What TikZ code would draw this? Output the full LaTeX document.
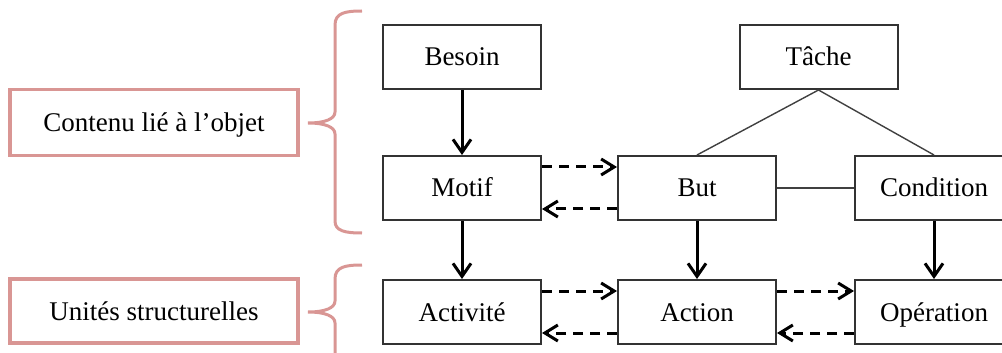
\documentclass[tikz,border=0pt]{standalone}
\usepackage{fontspec}
\setmainfont{Liberation Serif}
\usetikzlibrary{arrows.meta}
\definecolor{pinkline}{RGB}{217,150,148}
\begin{document}
\begin{tikzpicture}[x=0.5pt,y=-0.5pt,
  box/.style={draw=black!80,line width=1pt,fill=white,minimum width=79pt,minimum height=32pt,inner sep=0pt,text height=10pt,text depth=1pt,font=\fontsize{13.5}{16}\selectfont},
  pinkbox/.style={draw=pinkline,line width=1.8pt,minimum width=144pt,minimum height=33pt,inner sep=0pt,text height=10pt,text depth=1pt,font=\fontsize{13.5}{16}\selectfont},
  solidarrow/.style={line width=1.5pt,-{Straight Barb[length=6.5pt,width=9pt,line width=1.5pt]}},
  dasharrow/.style={line width=1.5pt,dash pattern=on 5pt off 3.5pt,-{Straight Barb[length=6.5pt,width=8pt,line width=1.5pt]}},
  thinline/.style={line width=0.7pt,black!75},
  bracestyle/.style={draw=pinkline,line width=1.5pt}
]
\clip (0,0) rectangle (1002,353);
% nodes
\node[box] (besoin) at (462,57) {Besoin};
\node[box] (motif) at (462,188) {Motif};
\node[box] (activite) at (462,312) {Activité};
\node[box] (tache) at (818.5,57) {Tâche};
\node[box] (but) at (697,188) {But};
\node[box] (condition) at (934,188) {Condition};
\node[box] (action) at (697,312) {Action};
\node[box] (operation) at (934,312) {Opération};
\node[pinkbox] (contenu) at (154,122.5) {Contenu lié à l’objet};
\node[pinkbox,minimum height=32pt] (unites) at (154,311) {Unités structurelles};
% braces
\draw[bracestyle] (362,11) .. controls (345,11) and (335,13) .. (335,25) -- (335,112)
  .. controls (335,119) and (325,123) .. (308,123)
  .. controls (325,123) and (335,127) .. (335,134) -- (335,221)
  .. controls (335,231) and (345,233) .. (362,233);
\draw[bracestyle] (362,265) .. controls (345,265) and (335,267) .. (335,279) -- (335,301)
  .. controls (335,308) and (325,312) .. (308,312)
  .. controls (325,312) and (335,316) .. (335,323) -- (335,370);
% connectors
\draw[solidarrow] (besoin.south) -- (motif.north);
\draw[solidarrow] (motif.south) -- (activite.north);
\draw[solidarrow] (but.south) -- (action.north);
\draw[solidarrow] (condition.south) -- (operation.north);
\draw[thinline] (tache.south) -- (but.north);
\draw[thinline] (tache.south) -- (condition.north);
\draw[thinline] (but.east) -- (condition.west);
\draw[dasharrow] ([yshift=10.5pt]motif.east) -- ([yshift=10.5pt]but.west);
\draw[dasharrow] ([yshift=-10.5pt]but.west) -- ([yshift=-10.5pt]motif.east);
\draw[dasharrow] ([yshift=10.5pt]activite.east) -- ([yshift=10.5pt]action.west);
\draw[dasharrow] ([yshift=-10.5pt]action.west) -- ([yshift=-10.5pt]activite.east);
\draw[dasharrow] ([yshift=10.5pt]action.east) -- ([yshift=10.5pt]operation.west);
\draw[dasharrow] ([yshift=-10.5pt]operation.west) -- ([yshift=-10.5pt]action.east);
\end{tikzpicture}
\end{document}
